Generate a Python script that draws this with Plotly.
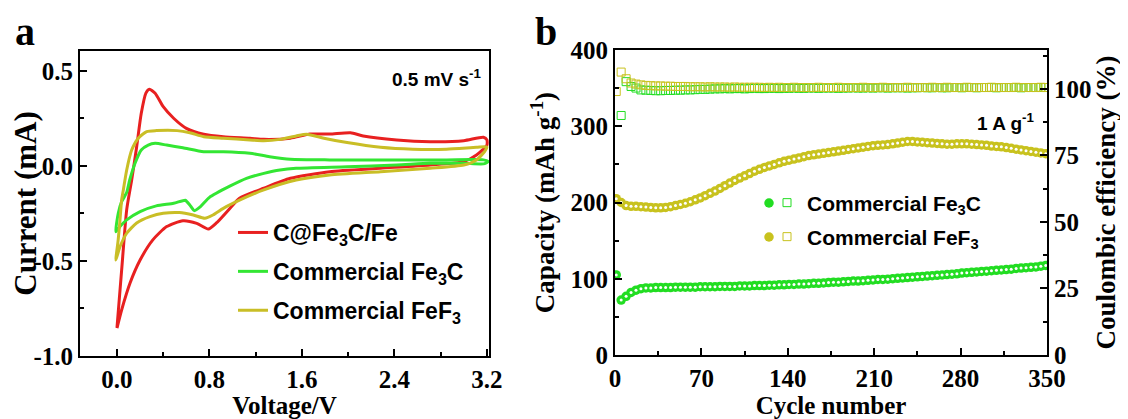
import plotly.graph_objects as go

# page has an 8 px body margin: figure is drawn at (8, 8)
OFF = 8
W, H = 1128 - OFF, 419 - OFF

# ---------------- panel a : CV curves ----------------
red_v = [0.00, 0.04, 0.084, 0.127, 0.17, 0.21, 0.25, 0.28, 0.33, 0.40, 0.49, 0.60, 0.75, 0.92, 1.15,
         1.27, 1.50, 1.67, 1.84, 2.02, 2.13, 2.42, 2.71, 3.00, 3.17, 3.20,
         3.20, 3.11, 3.00, 2.71, 2.28, 1.84, 1.50, 1.27, 1.06, 0.98, 0.86, 0.79, 0.69, 0.57, 0.43,
         0.31, 0.20, 0.113, 0.04, 0.00]
red_i = [-0.85, -0.55, -0.23, -0.074, 0.10, 0.277, 0.383, 0.404, 0.383, 0.312, 0.251, 0.198, 0.167, 0.154, 0.146,
         0.14, 0.146, 0.168, 0.168, 0.175, 0.158, 0.137, 0.128, 0.133, 0.151, 0.137,
         0.11, 0.058, 0.023, 0.005, -0.012, -0.03, -0.065, -0.117, -0.17, -0.221, -0.30, -0.332, -0.302, -0.288, -0.319,
         -0.389, -0.495, -0.616, -0.758, -0.853]

green_v = [-0.01, 0.011, 0.04, 0.084, 0.11, 0.156, 0.21, 0.27, 0.33, 0.43, 0.57, 0.75, 0.92, 1.15, 1.32,
           1.50, 1.84, 2.42, 2.85, 3.17, 3.21,
           3.17, 3.00, 2.71, 2.42, 1.99, 1.55, 1.41, 1.27, 1.12, 0.98, 0.80, 0.72, 0.67, 0.63, 0.60,
           0.59, 0.49, 0.34, 0.20, 0.084, 0.026, -0.01]
green_i = [-0.346, -0.249, -0.188, -0.14, -0.074, 0.014, 0.084, 0.11, 0.119, 0.11, 0.096, 0.075, 0.075, 0.067, 0.049,
           0.035, 0.032, 0.032, 0.032, 0.032, 0.023,
           0.011, 0.014, 0.014, 0.005, -0.004, -0.012, -0.021, -0.039, -0.065, -0.105, -0.165, -0.215, -0.235, -0.205, -0.185,
           -0.18, -0.196, -0.21, -0.24, -0.284, -0.319, -0.346]

yellow_v = [-0.01, 0.01, 0.026, 0.04, 0.055, 0.084, 0.127, 0.184, 0.257, 0.34, 0.52, 0.63, 0.75, 0.92, 1.15,
            1.27, 1.41, 1.55, 1.64, 1.79, 1.99, 2.28, 2.56, 2.85, 3.11, 3.20,
            3.18, 3.11, 3.00, 2.71, 2.28, 1.84, 1.55, 1.27, 1.06, 0.92, 0.83, 0.76, 0.66, 0.54, 0.40,
            0.285, 0.17, 0.084, 0.026, -0.01]
yellow_i = [-0.495, -0.39, -0.284, -0.18, -0.126, -0.021, 0.084, 0.146, 0.181, 0.186, 0.186, 0.175, 0.154, 0.146, 0.137,
            0.133, 0.14, 0.158, 0.167, 0.146, 0.123, 0.098, 0.088, 0.088, 0.098, 0.10,
            0.075, 0.032, 0.005, -0.012, -0.03, -0.047, -0.074, -0.126, -0.18, -0.223, -0.258, -0.275, -0.258, -0.245, -0.249,
            -0.267, -0.30, -0.354, -0.425, -0.495]

cv_names = ["C@Fe<sub>3</sub>C/Fe", "Commercial Fe<sub>3</sub>C", "Commercial FeF<sub>3</sub>"]
cv_colors = ["#E82020", "#33E633", "#C9BE26"]
cv_ticks = [0.0, 0.8, 1.6, 2.4, 3.2]
cv_ticktext = ["0.0", "0.8", "1.6", "2.4", "3.2"]
cur_ticks = [-1.0, -0.5, 0.0, 0.5]
cur_ticktext = ["-1.0", "-0.5", "0.0", "0.5"]

# ---------------- panel b : cycling ----------------
cycles = [1 + 4 * k for k in range(88)]
cap_fe3c = [105, 72, 77, 82, 85, 87, 88, 88, 88.5, 88.5, 88.5, 88.5, 89, 89, 89, 89, 89, 89.5, 89.5, 89.5,
            89.5, 90, 90, 90, 90, 90.5, 90.5, 90.5, 91, 91, 91, 91.5, 91.5, 92, 92, 92.5, 92.5, 93, 93, 93.5,
            94, 94, 94.5, 95, 95.5, 95.5, 96, 96.5, 97, 97, 97.5, 98, 98.5, 99, 99, 99.5, 100, 100.5, 101, 101.5,
            102, 102.5, 103, 103.5, 104, 104.5, 105, 105.5, 106, 106.5, 107.5, 108, 108.5, 109, 109.5, 110, 110.5,
            111, 111.5, 112, 112.5, 113.5, 114, 114.5, 115, 115.5, 116.5, 117.5]
cap_fef3 = [205, 200, 196, 195, 195, 194.5, 194, 193.5, 193, 193, 193.5, 194.5, 196, 197.5, 199, 201, 203.5,
            206, 209, 212, 215, 218.5, 222, 225.5, 229, 232, 235, 238, 241, 243.5, 246, 248, 250, 252, 254,
            255.5, 257, 258.5, 260, 261.5, 262.5, 263.5, 264.5, 265.5, 266.5, 267.5, 268.5, 269.5, 270.5, 271.5,
            272.5, 273.5, 274.5, 275, 275.5, 276, 277, 278, 279, 280, 280, 279.5, 279, 278.5, 278, 277.5, 277,
            276.5, 276.5, 277, 277, 277, 276.5, 276, 275.5, 275, 274, 273.5, 273, 272, 271, 270, 269, 268, 267,
            266, 265, 264]
ce_fe3c = [None, 90, 102.7, 100.9, 100.3, 99.6, 99.5, 99.4, 99.3, 99.3, 99.4, 99.4, 99.5, 99.5, 99.6, 99.6,
           99.7, 99.8, 99.8, 99.9, 100, 100, 100.1, 100, 100.1, 100.1, 100, 100.1, 100.2, 100.1, 100.1, 100.2,
           100.2, 100.1, 100.2, 100.2, 100.3, 100.2, 100.2, 100.3, 100.3, 100.2, 100.3, 100.3, 100.3, 100.2,
           100.3, 100.3, 100.4, 100.3, 100.3, 100.4, 100.3, 100.4, 100.4, 100.3, 100.4, 100.4, 100.4, 100.3,
           100.4, 100.4, 100.5, 100.4, 100.4, 100.5, 100.4, 100.4, 100.5, 100.5, 100.4, 100.5, 100.5, 100.4,
           100.5, 100.5, 100.5, 100.4, 100.5, 100.5, 100.5, 100.5, 100.4, 100.5, 100.5, 100.5, 100.5, 100.5]
ce_fef3 = [99, 106.3, 103.8, 102.2, 101.8, 101.5, 101.3, 101.2, 101.1, 101.1, 101.0, 101.0, 100.9, 100.9,
           100.9, 100.8, 100.8, 100.8, 100.7, 100.8, 100.7, 100.7, 100.7, 100.6, 100.7, 100.6, 100.6, 100.6,
           100.6, 100.6, 100.5, 100.6, 100.5, 100.6, 100.5, 100.5, 100.6, 100.5, 100.5, 100.5, 100.5, 100.6,
           100.5, 100.5, 100.5, 100.6, 100.5, 100.5, 100.5, 100.5, 100.6, 100.5, 100.5, 100.5, 100.6, 100.5,
           100.5, 100.5, 100.5, 100.6, 100.5, 100.5, 100.5, 100.5, 100.6, 100.5, 100.5, 100.6, 100.5, 100.5,
           100.5, 100.6, 100.5, 100.5, 100.5, 100.5, 100.6, 100.5, 100.5, 100.5, 100.5, 100.6, 100.5, 100.5,
           100.5, 100.5, 100.6, 100.5]
cyc_names = ["Commercial Fe<sub>3</sub>C", "Commercial FeF<sub>3</sub>"]
cyc_colors = ["#22DD22", "#C8C21E"]
cyc_ticks = [0, 70, 140, 210, 280, 350]
cap_ticks = [0, 100, 200, 300, 400]
ce_ticks = [0, 25, 50, 75, 100]


def px_x(p):
    return (p - OFF) / W


def px_y(p):
    return 1 - (p - OFF) / H


fig = go.Figure()

for v, i, n, c in zip([red_v, green_v, yellow_v], [red_i, green_i, yellow_i], cv_names, cv_colors):
    fig.add_trace(go.Scatter(x=v, y=i, mode="lines", name=n,
                             line=dict(color=c, width=3, shape="spline", smoothing=0.6),
                             xaxis="x", yaxis="y", legend="legend", legendgroup=n))

caps = [cap_fe3c, cap_fef3]
ces = [ce_fe3c, ce_fef3]
for k in range(2):
    fig.add_trace(go.Scatter(x=cycles, y=ces[k], mode="markers", name=cyc_names[k],
                             marker=dict(symbol="square-open", size=8, color=cyc_colors[k], line=dict(width=1)),
                             xaxis="x2", yaxis="y3", legend="legend3" if k == 0 else "legend5"))
for k in range(2):
    fig.add_trace(go.Scatter(x=cycles, y=caps[k], mode="markers", name="",
                             marker=dict(symbol="circle", size=9.5, color=cyc_colors[k], line=dict(width=0)),
                             xaxis="x2", yaxis="y2", legend="legend2" if k == 0 else "legend4"))
    fig.add_trace(go.Scatter(x=cycles, y=caps[k], mode="markers", showlegend=False, hoverinfo="skip",
                             marker=dict(symbol="circle", size=3, color="white"),
                             xaxis="x2", yaxis="y2"))

tick_font = dict(family="Liberation Serif", size=25, color="black", weight="bold")
xtitle_font = dict(family="Liberation Serif", size=25, color="black", weight="bold")
ytitle_font = dict(family="Liberation Serif", size=27, color="black", weight="bold")
cur_title_font = dict(family="Liberation Serif", size=31, color="black", weight="bold")
minor_common = dict(ticks="inside", ticklen=4, tickwidth=2, tickcolor="black")
ax_common = dict(showline=True, linewidth=2, linecolor="black", ticks="inside", ticklen=7, tickwidth=2,
                 tickcolor="black", showgrid=False, zeroline=False, tickfont=tick_font, automargin=False)

fig.update_layout(
    width=W, height=H, margin=dict(l=0, r=0, t=0, b=0),
    paper_bgcolor="white", plot_bgcolor="white", showlegend=True,
    xaxis=dict(domain=[px_x(80), px_x(489)], range=[-0.32, 3.218], tickvals=cv_ticks, ticktext=cv_ticktext,
               mirror=True, minor=dict(dtick=0.4, tick0=0, **minor_common),
               title=dict(text="Voltage/V", font=xtitle_font, standoff=0), anchor="y", **ax_common),
    yaxis=dict(domain=[px_y(356), px_y(51)], range=[-1.0, 0.605], tickvals=cur_ticks, ticktext=cur_ticktext,
               mirror=True, minor=dict(dtick=0.25, tick0=0, **minor_common),
               title=dict(text="Current (mA)", font=cur_title_font, standoff=2), anchor="x", **ax_common),
    xaxis2=dict(domain=[px_x(615), px_x(1047)], range=[0, 350], tickvals=cyc_ticks, mirror=True,
                minor=dict(dtick=35, tick0=0, **minor_common),
                title=dict(text="Cycle number", font=xtitle_font, standoff=0), anchor="y2", **ax_common),
    yaxis2=dict(domain=[px_y(355), px_y(50)], range=[0, 400], tickvals=cap_ticks,
                minor=dict(dtick=50, tick0=0, **minor_common),
                title=dict(text="Capacity (mAh g<sup>-1</sup>)", font=ytitle_font, standoff=8), anchor="x2",
                **ax_common),
    yaxis3=dict(overlaying="y2", side="right", range=[0, 114.6], tickvals=ce_ticks,
                minor=dict(dtick=12.5, tick0=0, **minor_common),
                title=dict(text="Coulombic efficiency (%)", font=ytitle_font, standoff=2), anchor="x2",
                **ax_common),
    legend=dict(x=px_x(233), y=px_y(211), xanchor="left", yanchor="top", bgcolor="rgba(0,0,0,0)",
                font=dict(family="Liberation Sans", size=23, color="black", weight="bold"), tracegroupgap=6),
    legend2=dict(x=px_x(749), y=px_y(203), xanchor="left", yanchor="middle", bgcolor="rgba(0,0,0,0)",
                 font=dict(family="Liberation Sans", size=20, color="black")),
    legend3=dict(x=px_x(767), y=px_y(203), xanchor="left", yanchor="middle", bgcolor="rgba(0,0,0,0)",
                 font=dict(family="Liberation Sans", size=21, color="black", weight="bold")),
    legend4=dict(x=px_x(749), y=px_y(237), xanchor="left", yanchor="middle", bgcolor="rgba(0,0,0,0)",
                 font=dict(family="Liberation Sans", size=20, color="black")),
    legend5=dict(x=px_x(767), y=px_y(237), xanchor="left", yanchor="middle", bgcolor="rgba(0,0,0,0)",
                 font=dict(family="Liberation Sans", size=21, color="black", weight="bold")),
)

ann_font = dict(family="Liberation Sans", size=19, color="black", weight="bold")
fig.add_annotation(text="0.5 mV s<sup>-1</sup>", x=px_x(484), y=px_y(78), xref="paper", yref="paper",
                   xanchor="right", yanchor="middle", showarrow=False, font=ann_font)
fig.add_annotation(text="1 A g<sup>-1</sup>", x=px_x(1036), y=px_y(122), xref="paper", yref="paper",
                   xanchor="right", yanchor="middle", showarrow=False, font=ann_font)
for letter, xp in [("a", 25), ("b", 546)]:
    fig.add_annotation(text=letter, x=px_x(xp), y=1.0, xref="paper", yref="paper",
                       xanchor="center", yanchor="top", showarrow=False, borderpad=0,
                       font=dict(family="Liberation Serif", size=40, color="black", weight="bold"))

fig.write_html("out.html")
